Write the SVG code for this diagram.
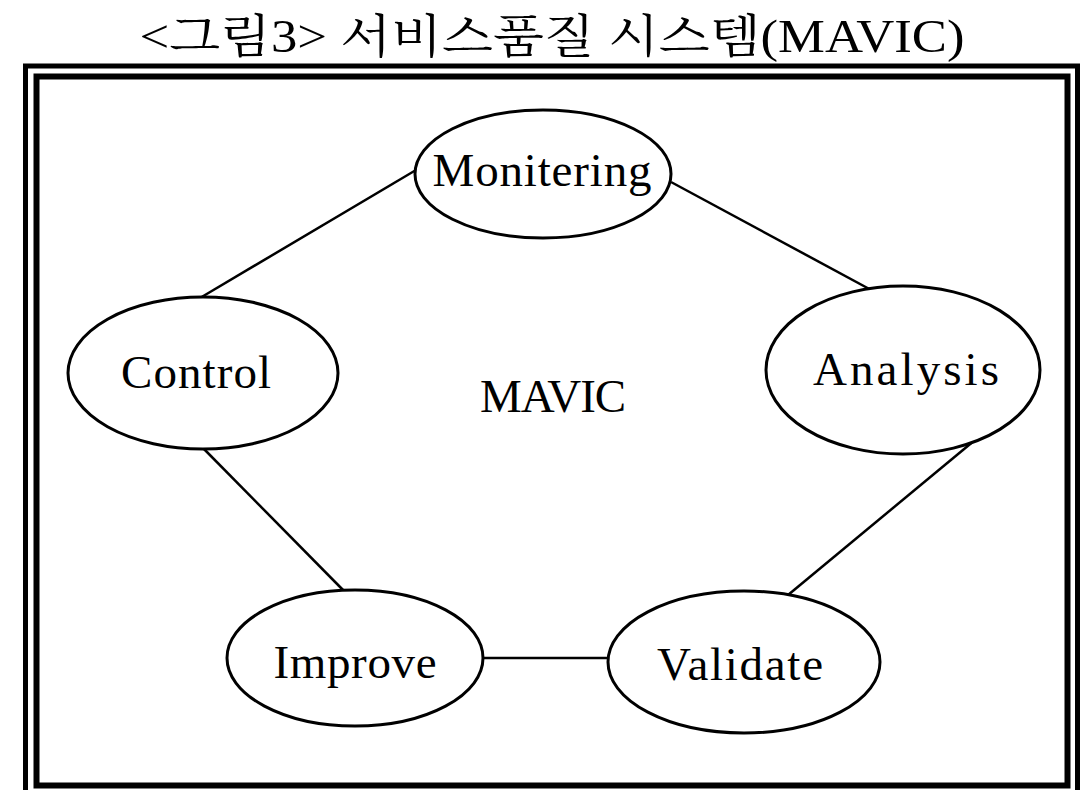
<svg xmlns="http://www.w3.org/2000/svg" width="1080" height="790" viewBox="0 0 1080 790">
  <style>
    .node { fill: #ffffff; stroke: #000000; stroke-width: 3; }
    .label { font-family: "Liberation Serif", "Noto Sans CJK KR", serif; font-size: 47px; fill: #000000; text-anchor: middle; }
    .title { font-family: "Liberation Serif", "Noto Serif CJK KR", "Noto Sans CJK KR", serif; font-size: 46px; fill: #000000; text-anchor: middle; }
    .edge { stroke: #000000; stroke-width: 2.5; fill: none; }
    .frame { fill: none; stroke: #000000; }
  </style>
  <rect width="1080" height="790" fill="#ffffff"/>

  <text class="title" x="552" y="52" textLength="825" lengthAdjust="spacingAndGlyphs">&lt;그림3&gt; 서비스품질 시스템(MAVIC)</text>

  <!-- double frame -->
  <g id="frame">
    <rect class="frame" x="25.5" y="66" width="1052" height="740" stroke-width="5"/>
    <rect class="frame" x="36.5" y="76.5" width="1031" height="709" stroke-width="6"/>
  </g>

  <g id="connectors">
    <line class="edge" x1="416" y1="170" x2="200" y2="298"/>
    <line class="edge" x1="671" y1="182" x2="886" y2="298"/>
    <line class="edge" x1="975" y1="440" x2="782" y2="600"/>
    <line class="edge" x1="202" y1="447" x2="345" y2="592"/>
    <line class="edge" x1="483" y1="658" x2="608" y2="658"/>
  </g>

  <g id="center-label">
    <text class="label" x="553" y="412" font-size="46" textLength="146">MAVIC</text>
  </g>

  <g id="monitering">
    <ellipse class="node" cx="543" cy="174" rx="128" ry="64"/>
    <text class="label" x="542" y="186" textLength="219">Monitering</text>
  </g>
  <g id="control">
    <ellipse class="node" cx="203" cy="373" rx="135" ry="76"/>
    <text class="label" x="196" y="388" textLength="150">Control</text>
  </g>
  <g id="analysis">
    <ellipse class="node" cx="903" cy="370" rx="137" ry="84"/>
    <text class="label" x="906" y="385" textLength="186">Analysis</text>
  </g>
  <g id="improve">
    <ellipse class="node" cx="355" cy="658" rx="128" ry="68"/>
    <text class="label" x="355" y="678" textLength="163">Improve</text>
  </g>
  <g id="validate">
    <ellipse class="node" cx="744" cy="662" rx="136" ry="71"/>
    <text class="label" x="740" y="680" textLength="166">Validate</text>
  </g>
</svg>
